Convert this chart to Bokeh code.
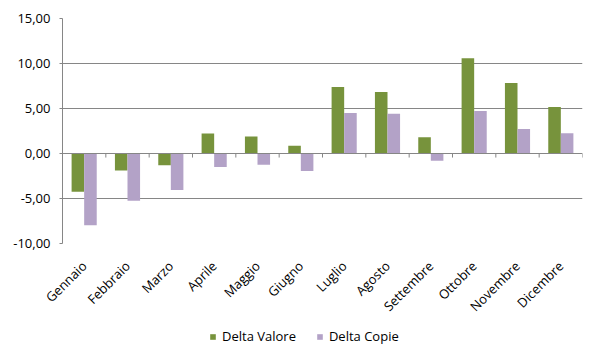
import numpy as np
from math import pi
from bokeh.plotting import figure
from bokeh.layouts import column
from bokeh.models import FixedTicker, Span, Legend, LegendItem
from bokeh.embed import file_html
from bokeh.resources import INLINE

months = ["Gennaio", "Febbraio", "Marzo", "Aprile", "Maggio", "Giugno",
          "Luglio", "Agosto", "Settembre", "Ottobre", "Novembre", "Dicembre"]
delta_valore = [-4.24, -1.90, -1.30, 2.22, 1.90, 0.85, 7.39, 6.83, 1.80, 10.58, 7.83, 5.17]
delta_copie = [-7.98, -5.24, -4.06, -1.50, -1.25, -1.95, 4.50, 4.43, -0.80, 4.72, 2.72, 2.24]
y_ticks = [-10, -5, 0, 5, 10, 15]
series_names = ["Delta Valore", "Delta Copie"]
series_colors = ["#77933C", "#B3A2C7"]

FONT = "Open Sans"
GRID = "#868686"

idx = np.arange(len(months))
bar_w = 0.29

p = figure(width=600, height=325, output_backend="svg", toolbar_location=None,
           x_range=(-0.5, len(months) - 0.5), y_range=(-10, 15),
           min_border_left=62, min_border_right=18, min_border_top=18, min_border_bottom=82)
p.outline_line_color = None
p.background_fill_color = "white"
p.border_fill_color = "white"

p.vbar(x=idx - bar_w / 2, top=delta_valore, bottom=0, width=bar_w,
       fill_color=series_colors[0], line_color=None)
p.vbar(x=idx + bar_w / 2, top=delta_copie, bottom=0, width=bar_w,
       fill_color=series_colors[1], line_color=None)

# zero line with category-boundary ticks
p.add_layout(Span(location=0, dimension="width", line_color=GRID, line_width=1))
bounds = np.arange(len(months) + 1) - 0.5
p.segment(x0=bounds, x1=bounds, y0=np.zeros_like(bounds), y1=np.full_like(bounds, -0.45),
          line_color=GRID, line_width=1)

# y axis
p.yaxis.ticker = FixedTicker(ticks=y_ticks)
p.yaxis.major_label_overrides = {t: f"{t:.2f}".replace(".", ",") for t in y_ticks}
p.yaxis.axis_line_color = GRID
p.yaxis.major_tick_line_color = GRID
p.yaxis.major_tick_out = 3
p.yaxis.major_tick_in = 0
p.yaxis.minor_tick_line_color = None
p.yaxis.major_label_text_font = FONT
p.yaxis.major_label_text_font_size = "13px"
p.yaxis.major_label_text_color = "#000000"
p.yaxis.major_label_standoff = 9

# x axis (labels only)
p.xaxis.ticker = FixedTicker(ticks=list(idx))
p.xaxis.major_label_overrides = {int(i): m for i, m in zip(idx, months)}
p.xaxis.major_label_orientation = pi / 4
p.xaxis.axis_line_color = None
p.xaxis.major_tick_line_color = None
p.xaxis.minor_tick_line_color = None
p.xaxis.major_label_text_font = FONT
p.xaxis.major_label_text_font_size = "13px"
p.xaxis.major_label_text_color = "#000000"
p.xaxis.major_label_standoff = 14

p.xgrid.grid_line_color = None
p.ygrid.ticker = FixedTicker(ticks=[t for t in y_ticks if t != 0])
p.ygrid.grid_line_color = GRID
p.ygrid.grid_line_width = 1

# legend strip below the chart (its bars lie outside its visible range)
pl = figure(width=600, height=35, output_backend="svg", toolbar_location=None,
            x_axis_type=None, y_axis_type=None,
            x_range=(100, 101), y_range=(100, 101), min_border=0)
pl.grid.grid_line_color = None
pl.outline_line_color = None
pl.background_fill_color = "white"
pl.border_fill_color = "white"
l1 = pl.vbar(x=idx, top=delta_valore, bottom=0, width=bar_w,
             fill_color=series_colors[0], line_color=None)
l2 = pl.vbar(x=idx, top=delta_copie, bottom=0, width=bar_w,
             fill_color=series_colors[1], line_color=None)
legend = Legend(items=[LegendItem(label=series_names[0], renderers=[l1]),
                       LegendItem(label=series_names[1], renderers=[l2])],
                orientation="horizontal", location=(147, 15),
                label_text_font=FONT, label_text_font_size="13px",
                label_text_color="#000000",
                glyph_width=7, glyph_height=7, label_standoff=6, spacing=20,
                border_line_color=None, background_fill_alpha=0,
                padding=0, margin=0)
pl.add_layout(legend, "center")

layout = column(p, pl, spacing=0)
open("out.html", "w").write(file_html(layout, INLINE))
